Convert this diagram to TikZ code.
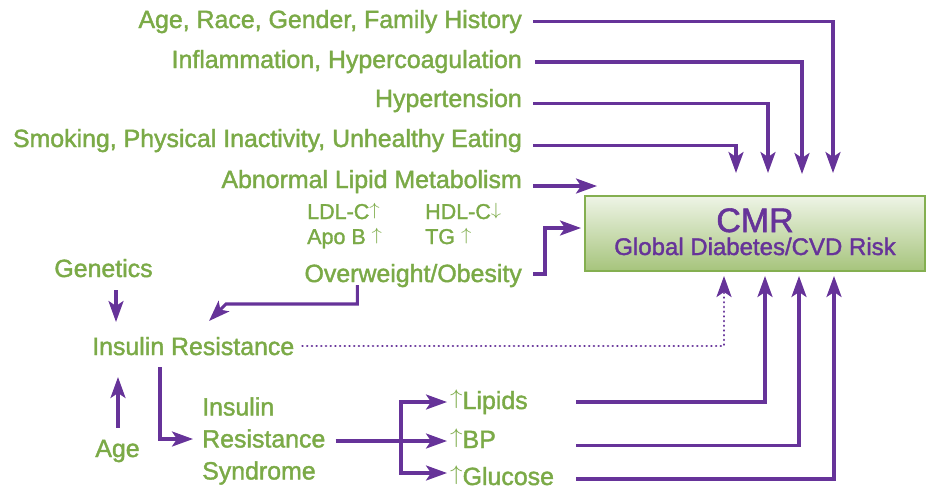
\documentclass[tikz,border=0pt]{standalone}
\usepackage{fontspec}
\usepackage{graphicx}
\setmainfont{Liberation Sans}
\newfontfamily\riskfont{Liberation Sans}[FakeBold=1.6]
\usetikzlibrary{arrows.meta,positioning}

\definecolor{riskgreen}{HTML}{7BAA47}
\definecolor{riskpurple}{HTML}{663399}
\definecolor{boxtop}{HTML}{EEF4E6}
\definecolor{boxbottom}{HTML}{A6C47C}
\definecolor{boxline}{HTML}{84AF50}

\newcommand{\up}{\raisebox{0.17em}{\scalebox{1}[0.85]{$\uparrow$}}}
\newcommand{\down}{\raisebox{0.17em}{\scalebox{1}[0.85]{$\downarrow$}}}

\tikzset{
  factor/.style={text=riskgreen, font=\riskfont\fontsize{24.9}{28}\selectfont, inner sep=0pt},
  marker/.style={factor, font=\riskfont\fontsize{21.5}{24}\selectfont},
  riskbox/.style={draw=boxline, line width=1.5pt, top color=boxtop, bottom color=boxbottom},
  boxtext/.style={text=riskpurple, inner sep=0pt},
  conn/.style={draw=riskpurple, line width=3.1pt, -{Stealth[length=21pt,width=15pt,inset=5pt]}},
  dotconn/.style={conn, line width=2.6pt, line cap=round, dash pattern=on 0.1pt off 4.6pt},
}

\begin{document}
\begin{tikzpicture}[x=1pt,y=-1pt]
    \useasboundingbox (0,0) rectangle (933,490);

    % outcome box
    \node[riskbox, minimum width=340pt, minimum height=75pt] (cmr) at (755,233.5) {};
    \node[boxtext, font=\riskfont\fontsize{34}{33}\selectfont, anchor=base] (cmrtitle) at (755,232) {CMR};
    \node[boxtext, font=\riskfont\fontsize{24}{23}\selectfont, anchor=base] (cmrsub) at (755,255) {Global Diabetes/CVD Risk};

    % factors above the box
    \node[factor, anchor=base east] (agerace) at (522,28) {Age, Race, Gender, Family History};
    \node[factor, anchor=base east] (inflam) at (522,68) {Inflammation, Hypercoagulation};
    \node[factor, anchor=base east] (hypert) at (522,107) {Hypertension};
    \node[factor, anchor=base east] (smoking) at (522,147) {Smoking, Physical Inactivity, Unhealthy Eating};
    \node[factor, anchor=base east] (lipidmet) at (522,188) {Abnormal Lipid Metabolism};

    \node[marker, anchor=base west] (ldl) at (307,219) {LDL-C\up};
    \node[marker, anchor=base west] (hdl) at (425,219) {HDL-C\down};
    \node[marker, anchor=base west] (apob) at (307,244) {Apo B \up};
    \node[marker, anchor=base west] (tg) at (425,244) {TG \up};
    \node[factor, anchor=base east] (obesity) at (522,282) {Overweight/Obesity};

    % insulin resistance branch
    \node[factor, anchor=base] (genetics) at (103.5,277) {Genetics};
    \node[factor, anchor=base west] (insres) at (92,355) {Insulin Resistance};
    \node[factor, anchor=base] (age) at (117.5,457) {Age};
    \node[factor, font=\riskfont\fontsize{24.9}{32}\selectfont, align=left, anchor=west] (irs) at (202,441) {Insulin\\Resistance\\Syndrome};

    \node[factor, anchor=base west] (lipids) at (450,409) {\up Lipids};
    \node[factor, anchor=base west] (bp) at (450,448) {\up BP};
    \node[factor, anchor=base west] (glucose) at (450,485) {\up Glucose};

    % arrow ends
    \coordinate (topA) at (833,173);
    \coordinate (topB) at (802,174);
    \coordinate (topC) at (768,173);
    \coordinate (topD) at (736,173);
    \coordinate (lipidtip) at (597,186);
    \coordinate (obtip) at (581,228);
    \coordinate (irbend) at (226,304);
    \coordinate (irtip) at (209,321);
    \coordinate (genin) at (116,322);
    \coordinate (agein) at (118,377);
    \coordinate (irsin) at (193,439);
    \coordinate (fork) at (401,441);
    \coordinate (liptip) at (447,402);
    \coordinate (bptip) at (447,441);
    \coordinate (glutip) at (447,473);
    \coordinate (botA) at (724,276);
    \coordinate (botB) at (765,276);
    \coordinate (botC) at (799,276);
    \coordinate (botD) at (834,276);

    \draw[conn] ([xshift=11pt,yshift=6.5pt]agerace.base east) -| (topA);
    \draw[conn] ([xshift=13pt,yshift=6pt]inflam.base east) -| (topB);
    \draw[conn] ([xshift=11pt,yshift=3.5pt]hypert.base east) -| (topC);
    \draw[conn] ([xshift=11pt,yshift=1.5pt]smoking.base east) -| (topD);
    \draw[conn] ([xshift=11pt,yshift=2pt]lipidmet.base east) -- (lipidtip);
    \draw[conn] ([xshift=11pt,yshift=8pt]obesity.base east) -- ++(12,0) |- (obtip);
    \draw[conn] ([xshift=53pt,yshift=-3pt]obesity.base west) |- (irbend) -- (irtip);

    \draw[conn] ([xshift=12.5pt,yshift=-13pt]genetics.base) -- (genin);
    \draw[conn] ([xshift=0.5pt,yshift=12pt]age.north) -- (agein);
    \draw[conn] ([xshift=68pt,yshift=-12pt]insres.base west) |- (irsin);
    \draw[dotconn] ([xshift=8pt]insres.east) -| (botA);

    \draw[conn] ([xshift=10pt]irs.east) -- (bptip);
    \draw[conn] (fork) |- (liptip);
    \draw[conn] (fork) |- (glutip);

    \draw[conn] ([xshift=126pt,yshift=7pt]lipids.base west) -| (botB);
    \draw[conn] ([xshift=126pt,yshift=2.5pt]bp.base west) -| (botC);
    \draw[conn] ([xshift=126pt,yshift=6pt]glucose.base west) -| (botD);

\end{tikzpicture}
\end{document}
